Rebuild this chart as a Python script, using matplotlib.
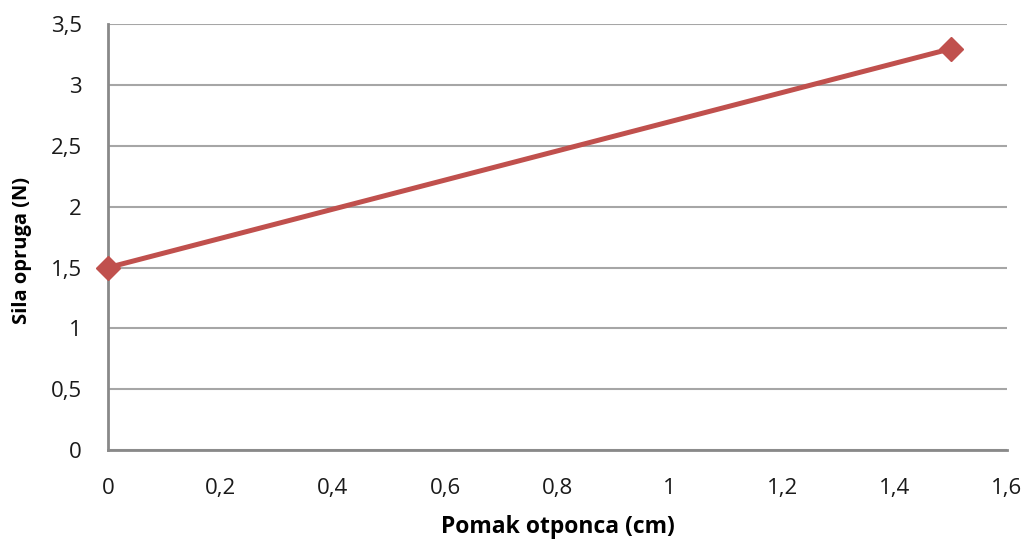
import matplotlib
matplotlib.use("Agg")
import matplotlib.pyplot as plt
from matplotlib.ticker import FuncFormatter

plt.rcParams['font.family'] = ['Open Sans', 'DejaVu Sans']

# data
pomak = [0, 1.5]
sila = [1.5, 3.3]

x_ticks = [0, 0.2, 0.4, 0.6, 0.8, 1.0, 1.2, 1.4, 1.6]
y_ticks = [0, 0.5, 1, 1.5, 2, 2.5, 3, 3.5]

def comma(v, pos):
    s = ('%.1f' % v).rstrip('0').rstrip('.')
    return s.replace('.', ',')

fig = plt.figure(figsize=(10.26, 5.44), dpi=100)
ax = fig.add_axes([0.1053, 0.173, 0.876, 0.782])

ax.plot(pomak, sila, color='#C0504D', lw=3.6, marker='D', ms=12.5,
        markerfacecolor='#C0504D', markeredgecolor='#C0504D', clip_on=False, zorder=3)

ax.set_xlim(0, 1.6)
ax.set_ylim(0, 3.5)
ax.set_xticks(x_ticks)
ax.set_yticks(y_ticks)
ax.xaxis.set_major_formatter(FuncFormatter(comma))
ax.yaxis.set_major_formatter(FuncFormatter(comma))

ax.grid(axis='y', color='#A6A6A6', lw=1.5)
ax.set_axisbelow(True)
for s in ['top', 'right']:
    ax.spines[s].set_visible(False)
for s in ['left', 'bottom']:
    ax.spines[s].set_color('#898989')
    ax.spines[s].set_linewidth(2)

ax.tick_params(axis='both', length=0, labelsize=16, colors='#1a1a1a')
ax.tick_params(axis='y', pad=19)
ax.tick_params(axis='x', pad=20)

ax.set_xlabel('Pomak otponca (cm)', fontsize=16.5, fontweight='bold')
ax.set_ylabel('Sila opruga (N)', fontsize=14.5, fontweight='bold')
ax.xaxis.set_label_coords(0.5, -0.181)
ax.yaxis.set_label_coords(-0.096, 0.468)
ax.xaxis.label.set_va('center')
ax.yaxis.label.set_va('center')

fig.savefig('out.png', dpi=100)
